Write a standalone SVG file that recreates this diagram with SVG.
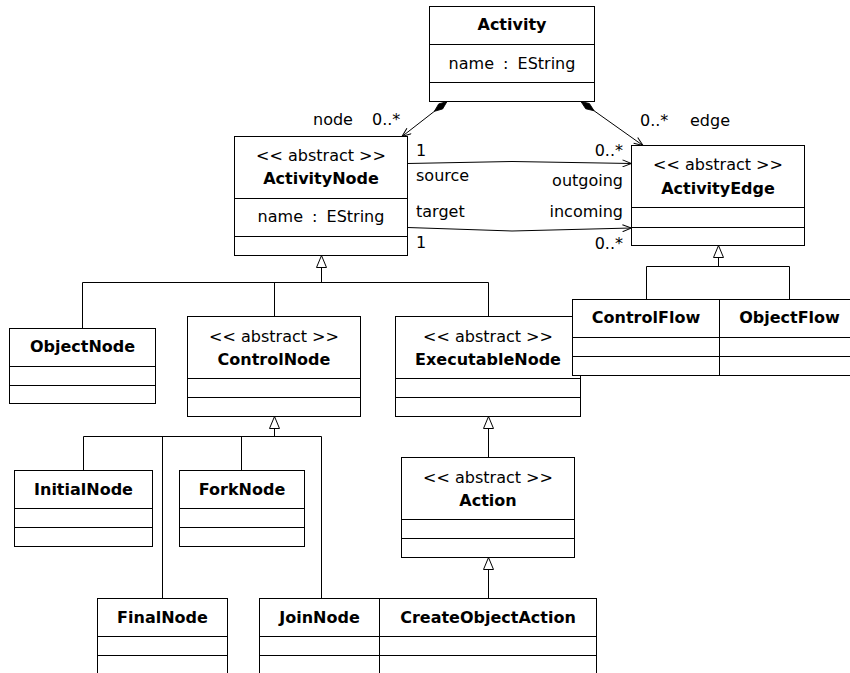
<svg xmlns="http://www.w3.org/2000/svg" width="850" height="673" viewBox="0 0 850 673">
<style>
.box{fill:#fff;stroke:#000;stroke-width:1}
.sep{stroke:#000;stroke-width:1;fill:none}
.t{font-family:"DejaVu Sans","Liberation Sans",sans-serif;font-size:16px;fill:#000}
.b{font-weight:bold}
.c{text-anchor:middle}
.e{text-anchor:end}
.ws{word-spacing:4px}
.ln{fill:none;stroke:#000;stroke-width:1}
</style>
<defs>
<marker id="gen" viewBox="0 0 13 11" refX="12.5" refY="5.5" markerWidth="13" markerHeight="11" markerUnits="userSpaceOnUse" orient="auto">
<path d="M0.5,0.5 L12.5,5.5 L0.5,10.5 Z" fill="#fff" stroke="#000" stroke-width="1"/>
</marker>
<marker id="arr" viewBox="0 0 10 8" refX="9.5" refY="4" markerWidth="10" markerHeight="8" markerUnits="userSpaceOnUse" orient="auto">
<path d="M0.5,0.5 L9.5,4 L0.5,7.5" fill="none" stroke="#000" stroke-width="1"/>
</marker>
<marker id="dia" viewBox="0 0 17 8" refX="0.5" refY="4" markerWidth="17" markerHeight="8" markerUnits="userSpaceOnUse" orient="auto">
<path d="M0.5,4 L8.5,0.8 L16.5,4 L8.5,7.2 Z" fill="#000" stroke="#000" stroke-width="0.8"/>
</marker>
</defs>

<g id="connectors">
<path class="ln" d="M447,101.5 L402,136.5" marker-start="url(#dia)" marker-end="url(#arr)"/>
<path class="ln" d="M581,101.5 L643,145.5" marker-start="url(#dia)" marker-end="url(#arr)"/>
<path class="ln" d="M407.5,163.5 L512,161.5 L631.5,163.5" marker-end="url(#arr)"/>
<path class="ln" d="M407.5,227.5 L512,231 L631.5,228" marker-end="url(#arr)"/>
<path class="ln" d="M321.5,282.5 V255.5" marker-end="url(#gen)"/>
<path class="ln" d="M82.5,328.5 V282.5 H488.5 V316.5 M274.5,282.5 V316.5"/>
<path class="ln" d="M718.5,266.5 V245.5" marker-end="url(#gen)"/>
<path class="ln" d="M646.5,299.5 V266.5 H789.5 V299.5"/>
<path class="ln" d="M274.5,436.5 V416.5" marker-end="url(#gen)"/>
<path class="ln" d="M83.5,470.5 V436.5 H321.5 V598.5 M162.5,436.5 V598.5 M241.5,436.5 V470.5"/>
<path class="ln" d="M488.5,457.5 V416.5" marker-end="url(#gen)"/>
<path class="ln" d="M488.5,598.5 V557.5" marker-end="url(#gen)"/>
<text class="t" x="313" y="125">node</text>
<text class="t" x="372" y="125">0..*</text>
<text class="t" x="640" y="126">0..*</text>
<text class="t" x="690" y="126">edge</text>
<text class="t" x="416" y="156">1</text>
<text class="t" x="416" y="181">source</text>
<text class="t e" x="623" y="156">0..*</text>
<text class="t e" x="623" y="186">outgoing</text>
<text class="t" x="416" y="217">target</text>
<text class="t e" x="623" y="217">incoming</text>
<text class="t" x="416" y="248">1</text>
<text class="t e" x="623" y="249">0..*</text>
</g>

<g id="Activity">
<rect class="box" x="429.5" y="6.5" width="165" height="95"/>
<path class="sep" d="M429.5,44.5 H594.5 M429.5,82.5 H594.5"/>
<text class="t b c" x="512" y="30">Activity</text>
<text class="t c ws" x="512" y="69">name : EString</text>
</g>

<g id="ActivityNode">
<rect class="box" x="234.5" y="136.5" width="173" height="119"/>
<path class="sep" d="M234.5,198.5 H407.5 M234.5,236.5 H407.5"/>
<text class="t c" x="321" y="161">&lt;&lt; abstract &gt;&gt;</text>
<text class="t b c" x="321" y="184">ActivityNode</text>
<text class="t c ws" x="321" y="222">name : EString</text>
</g>

<g id="ActivityEdge">
<rect class="box" x="631.5" y="145.5" width="173" height="100"/>
<path class="sep" d="M631.5,207.5 H804.5 M631.5,227.5 H804.5"/>
<text class="t c" x="718" y="170">&lt;&lt; abstract &gt;&gt;</text>
<text class="t b c" x="718" y="193.5">ActivityEdge</text>
</g>

<g id="ObjectNode">
<rect class="box" x="9.5" y="328.5" width="146" height="75"/>
<path class="sep" d="M9.5,366.5 H155.5 M9.5,385.5 H155.5"/>
<text class="t b c" x="82.5" y="352">ObjectNode</text>
</g>

<g id="ControlNode">
<rect class="box" x="187.5" y="316.5" width="173" height="100"/>
<path class="sep" d="M187.5,378.5 H360.5 M187.5,397.5 H360.5"/>
<text class="t c" x="274" y="341.5">&lt;&lt; abstract &gt;&gt;</text>
<text class="t b c" x="274" y="364.5">ControlNode</text>
</g>

<g id="ExecutableNode">
<rect class="box" x="395.5" y="316.5" width="185" height="100"/>
<path class="sep" d="M395.5,378.5 H580.5 M395.5,397.5 H580.5"/>
<text class="t c" x="488" y="341.5">&lt;&lt; abstract &gt;&gt;</text>
<text class="t b c" x="488" y="364.5">ExecutableNode</text>
</g>

<g id="ControlFlow">
<rect class="box" x="572.5" y="299.5" width="147" height="76"/>
<path class="sep" d="M572.5,337.5 H719.5 M572.5,356.5 H719.5"/>
<text class="t b c" x="646" y="323">ControlFlow</text>
</g>

<g id="ObjectFlow">
<rect class="box" x="719.5" y="299.5" width="140" height="76"/>
<path class="sep" d="M719.5,337.5 H859.5 M719.5,356.5 H859.5"/>
<text class="t b c" x="789.5" y="323">ObjectFlow</text>
</g>

<g id="InitialNode">
<rect class="box" x="14.5" y="470.5" width="138" height="76"/>
<path class="sep" d="M14.5,508.5 H152.5 M14.5,527.5 H152.5"/>
<text class="t b c" x="83.5" y="494.5">InitialNode</text>
</g>

<g id="ForkNode">
<rect class="box" x="179.5" y="470.5" width="125" height="76"/>
<path class="sep" d="M179.5,508.5 H304.5 M179.5,527.5 H304.5"/>
<text class="t b c" x="242" y="494.5">ForkNode</text>
</g>

<g id="Action">
<rect class="box" x="401.5" y="457.5" width="173" height="100"/>
<path class="sep" d="M401.5,519.5 H574.5 M401.5,538.5 H574.5"/>
<text class="t c" x="488" y="482.5">&lt;&lt; abstract &gt;&gt;</text>
<text class="t b c" x="488" y="505.5">Action</text>
</g>

<g id="FinalNode">
<rect class="box" x="97.5" y="598.5" width="130" height="78"/>
<path class="sep" d="M97.5,636.5 H227.5 M97.5,655.5 H227.5"/>
<text class="t b c" x="162.5" y="622.5">FinalNode</text>
</g>

<g id="JoinNode">
<rect class="box" x="259.5" y="598.5" width="120" height="78"/>
<path class="sep" d="M259.5,636.5 H379.5 M259.5,655.5 H379.5"/>
<text class="t b c" x="319.5" y="622.5">JoinNode</text>
</g>

<g id="CreateObjectAction">
<rect class="box" x="379.5" y="598.5" width="217" height="78"/>
<path class="sep" d="M379.5,636.5 H596.5 M379.5,655.5 H596.5"/>
<text class="t b c" x="488" y="622.5">CreateObjectAction</text>
</g>
</svg>
